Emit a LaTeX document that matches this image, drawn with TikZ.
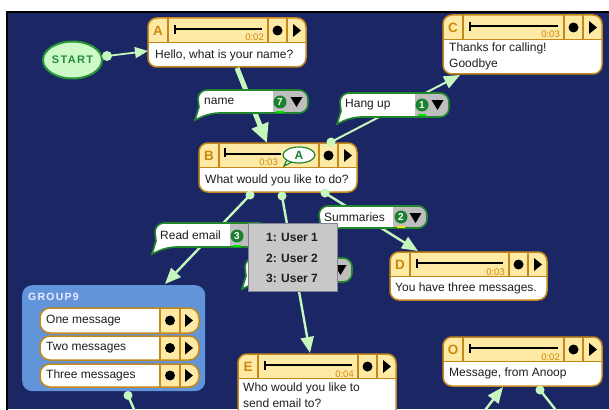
\documentclass[tikz,border=0pt]{standalone}
\usepackage{fontspec}
\setmainfont{Liberation Sans}
\usetikzlibrary{arrows.meta,calc,shapes.geometric}
\definecolor{navy}{RGB}{27,39,101}
\definecolor{hdr}{RGB}{255,234,165}
\definecolor{brd}{RGB}{196,136,28}
\definecolor{letc}{RGB}{204,136,12}
\definecolor{conn}{RGB}{196,246,190}
\definecolor{stfill}{RGB}{206,250,200}
\definecolor{stbrd}{RGB}{40,150,50}
\definecolor{sttxt}{RGB}{36,140,60}
\definecolor{lblbrd}{RGB}{34,134,44}
\definecolor{lblgray}{RGB}{190,190,190}
\definecolor{badgec}{RGB}{26,130,46}
\definecolor{barg}{RGB}{0,230,0}
\definecolor{bary}{RGB}{240,230,0}
\definecolor{popc}{RGB}{200,200,200}
\definecolor{popbrd}{RGB}{130,130,150}
\definecolor{grpc}{RGB}{98,148,218}
\definecolor{ink}{RGB}{30,30,30}
\tikzset{
  txt/.style={font=\fontsize{12}{16}\selectfont, text=ink, inner sep=0pt, anchor=west, align=left},
  lettxt/.style={font=\fontsize{13.5}{13.5}\selectfont\bfseries, text=letc, inner sep=0pt},
  timetxt/.style={font=\fontsize{9.5}{10}\selectfont, text=letc, inner sep=0pt, anchor=base east},
  poptxt/.style={font=\fontsize{12}{12}\selectfont\bfseries, text=ink, inner sep=0pt},
  boxbrd/.style={draw=brd, line width=1.5pt},
  conline/.style={draw=conn, line width=2.4pt, -{Triangle[length=16pt,width=13pt]}},
  conthin/.style={draw=conn, line width=1.8pt, -{Triangle[length=13pt,width=11pt]}},
  conthick/.style={draw=conn, line width=5pt, -{Triangle[length=19pt,width=17pt]}},
  plainline/.style={draw=conn, line width=2.4pt},
}
% prompt box: name, letter, x1, y1, x2, y2, time
\newcommand\PBox[7]{%
  \pgfmathsetmacro\pbA{#3+20}%
  \pgfmathsetmacro\pbB{#5-38}%
  \pgfmathsetmacro\pbC{#5-19}%
  \pgfmathsetmacro\pbH{#4+24.5}%
  \pgfmathsetmacro\pbW{#5-#3}%
  \pgfmathsetmacro\pbHt{#6-#4}%
  \node[inner sep=0pt, outer sep=0pt, minimum width=\pbW pt, minimum height=\pbHt pt, anchor=north west] (#1) at (#3,#4) {};
  \draw[boxbrd, fill=white, rounded corners=9pt, path picture={\fill[hdr, sharp corners] (#3-3,#4-3) rectangle (#5+3,\pbH);}] (#3,#4) rectangle (#5,#6);
  \draw[boxbrd] (#3,\pbH) -- (#5,\pbH) (\pbA,#4) -- (\pbA,\pbH) (\pbB,#4) -- (\pbB,\pbH) (\pbC,#4) -- (\pbC,\pbH);
  \node[lettxt] (#1-let) at (#3+10,#4+12.5) {#2};
  \fill (\pbB+9.5,#4+12.5) circle (5);
  \fill (\pbC+6,#4+6) -- (\pbC+14,#4+12.5) -- (\pbC+6,#4+19) -- cycle;
  \ifx\relax#7\relax\else
    \draw[line width=1.5pt] (#3+27,#4+7) -- (#3+27,#4+16) (#3+27,#4+11) -- (\pbB-6,#4+11);
    \node[timetxt] (#1-time) at (\pbB-4,#4+23) {#7};
  \fi
}
% label: name, x1, y1, x2, y2, gray start, text x, text
\newcommand\Lbl[8]{%
  \filldraw[fill=white, draw=lblbrd, line width=1.6pt,
    path picture={\fill[lblgray, sharp corners] (#6,#3-5) rectangle (#4+5,#5+5);}]
    (#2-3,#5+7) -- (#2+1,#5-6) -- (#2,#3+9) [rounded corners=9pt] -- (#2,#3) -- (#4,#3) -- (#4,#5) -- (#2+12,#5) [sharp corners] -- cycle;
  \node[txt] (#1) at (#7,{(#3+#5)/2}) {#8};
  \fill (#4-17.5,#3+7) -- (#4-5.5,#3+7) -- (#4-11.5,#3+17) -- cycle;
}
% badge: name, x, y, number, bar colour
\newcommand\Badge[5]{%
  \fill[#5] (#2-4,#3+8.5) rectangle (#2+4,#3+11);
  \fill[badgec] (#2,#3) circle (6.5);
  \node[font=\fontsize{10}{10}\selectfont\bfseries, text=white, inner sep=0pt] (#1) at (#2,#3) {#4};
}
% group row: name, y1, y2, text
\newcommand\GRow[4]{%
  \draw[boxbrd, fill=white, rounded corners=10pt, path picture={\fill[hdr, sharp corners] (160,#2-3) rectangle (203,#3+3);}] (40,#2) rectangle (199,#3);
  \draw[boxbrd] (160,#2) -- (160,#3) (180,#2) -- (180,#3);
  \fill (170,{(#2+#3)/2}) circle (5);
  \fill (185,{(#2+#3)/2-6.5}) -- (193,{(#2+#3)/2}) -- (185,{(#2+#3)/2+6.5}) -- cycle;
  \node[txt] (#1) at (46,{(#2+#3)/2}) {#4};
}
\begin{document}
\begin{tikzpicture}[x=1pt,y=-1pt]
\path[use as bounding box] (0,0) rectangle (609,409);
\clip (0,0) rectangle (609,409);
% background
\fill[white] (0,0) rectangle (609,409);
\fill[navy] (7,12) rectangle (609,409);
\draw[black, line width=2.2pt] (7.2,412) -- (7.2,12) -- (612,12);

% start
\node[ellipse, draw=stbrd, fill=stfill, line width=2pt, minimum width=59pt, minimum height=37pt, inner sep=0pt,
  font=\fontsize{11}{11}\selectfont\bfseries\addfontfeatures{LetterSpace=12}, text=sttxt] (START) at (72.5,60) {START};

% boxes
\PBox{A}{A}{148}{18}{306}{67}{0:02}
\node[txt] (A-txt) at (155,55) {Hello, what is your name?};
\PBox{C}{C}{443}{15}{602}{74}{0:03}
\node[txt] (C-txt) at (449,56) {Thanks for calling!\\Goodbye};
\PBox{B}{B}{199}{143}{357}{192}{}
\draw[line width=1.5pt] (225,148) -- (225,157) (225,154) -- (281,154);
\node[timetxt] (B-time) at (278,165) {0:03};
\filldraw[fill=white, draw=lblbrd, line width=1.2pt] (288,158) -- (284,166) -- (294,161) -- cycle;
\node[ellipse, draw=lblbrd, fill=white, line width=1.2pt, minimum width=32pt, minimum height=16pt, inner sep=0pt,
  font=\fontsize{12}{12}\selectfont\bfseries, text=badgec] (B-bub) at (299,155) {A};
\node[txt] (B-txt) at (205,180) {What would you like to do?};
\PBox{D}{D}{390}{252}{547}{300}{0:03}
\node[txt] (D-txt) at (395,288) {You have three messages.};
\PBox{E}{E}{238}{354}{396}{424}{0:04}
\node[txt] (E-txt) at (243,395) {Who would you like to\\send email to?};
\PBox{O}{O}{443}{337}{602}{386}{0:02}
\node[txt] (O-txt) at (449,373) {Message, from Anoop};

% group
\node[fill=grpc, rounded corners=10pt, minimum width=183pt, minimum height=106pt, anchor=north west, inner sep=0pt] (G) at (22,285) {};
\node[font=\fontsize{10.5}{11}\selectfont\bfseries\addfontfeatures{LetterSpace=12}, text=white!92!blue, inner sep=0pt, anchor=west] (G-title) at (28,297) {GROUP9};
\GRow{r1}{308}{333}{One message}
\GRow{r2}{336}{360}{Two messages}
\GRow{r3}{364}{387}{Three messages}

% connectors
\coordinate (s0) at ($(START.east)+(4,-4)$);
\draw[conthin] (s0) -- ($(A.south west)+(0,-16)$);
\fill[conn] (s0) circle (5);

\coordinate (a0) at ($(A.south west)+(89,1)$);
\draw[conthick] (a0) -- ($(B.north west)+(68,0)$);

\coordinate (b1) at ($(B.north west)+(132,-1)$);
\draw[conline, line width=2pt] (b1) -- ($(C.south west)+(17,1)$);
\coordinate (b2) at ($(B.south west)+(51,3)$);
\draw[conline] (b2) -- ($(G.north west)+(143,-1)$);
\coordinate (b3) at ($(B.south west)+(83,4)$);
\draw[conline] (b3) -- ($(E.north west)+(72,-1)$);
\coordinate (b4) at ($(B.south west)+(126,1)$);
\draw[conline] (b4) -- ($(D.north west)+(28,-1)$);
\coordinate (g0) at ($(G.south west)+(106,4)$);
\coordinate (gout) at (136,414);
\draw[plainline] (g0) -- (gout);
\coordinate (oin) at (482,414);
\draw[conline] (oin) -- ($(O.south west)+(60,1)$);
\coordinate (o0) at ($(O.south west)+(97,4)$);
\coordinate (oout) at (559,414);
\draw[plainline] (o0) -- (oout);
\foreach \p in {b1,b2,b3,b4,g0,o0} \fill[conn] (\p) circle (4.5);

% labels
\Lbl{L-name}{198}{90}{308}{113}{273}{204}{name}
\Badge{bd7}{280}{102}{7}{barg}
\Lbl{L-hang}{340}{93}{449}{117}{415}{345}{Hang up}
\Badge{bd1}{422}{105}{1}{barg}
\Lbl{L-read}{155}{223}{268}{247}{230}{160}{Read email}
\Badge{bd3}{237}{236}{3}{barg}
\Lbl{L-summ}{319}{206}{427}{228}{393}{324}{Summaries}
\Badge{bd2}{401}{217}{2}{bary}
\Lbl{L-hid}{245}{258}{352}{282}{327}{250}{}

% popup menu
\node[draw=popbrd, fill=popc, line width=1pt, minimum width=89pt, minimum height=68pt, anchor=north west, inner sep=0pt] (pop) at (248,223) {};
\node[poptxt] (u1) at (292,237) {1: User 1};
\node[poptxt] (u2) at (292,258) {2: User 2};
\node[poptxt] (u3) at (292,278) {3: User 7};
\end{tikzpicture}
\end{document}
